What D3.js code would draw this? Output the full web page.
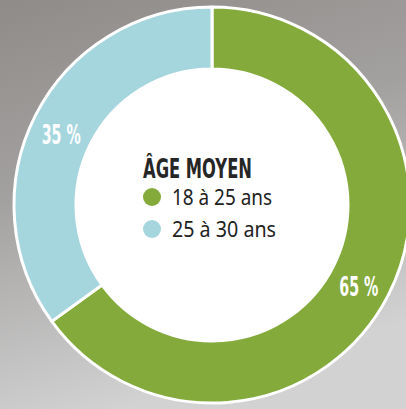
<!DOCTYPE html>
<html>
<head>
<meta charset="utf-8">
<script src="https://cdn.jsdelivr.net/npm/d3@7"></script>
<style>
  html, body { margin: 0; padding: 0; background: #b0aeac; }
  svg { display: block; }
</style>
</head>
<body>
<svg id="chart" width="406" height="409"></svg>
<script>
// ---- data ----
const categories = ["18 à 25 ans", "25 à 30 ans"];
const values = [65, 35];
const valueLabels = ["65 %", "35 %"];
const colors = ["#84aa3c", "#a5d6de"];
const title = "ÂGE MOYEN";

// ---- layout ----
const W = 406, H = 409;
const cx = 212, cy = 205;
const outerR = 198, innerR = 136;

const svg = d3.select("#chart");
const defs = svg.append("defs");

// concrete-like background
const bg = defs.append("linearGradient").attr("id", "bg")
  .attr("x1", "0").attr("y1", "0").attr("x2", "0.3").attr("y2", "1");
bg.append("stop").attr("offset", "0%").attr("stop-color", "#8f8b89");
bg.append("stop").attr("offset", "45%").attr("stop-color", "#a3a1a0");
bg.append("stop").attr("offset", "100%").attr("stop-color", "#d2d2d2");
svg.append("rect").attr("width", W).attr("height", H).attr("fill", "url(#bg)");

const g = svg.append("g").attr("transform", `translate(${cx},${cy})`);

const pie = d3.pie().sort(null).value(d => d)(values);
const arc = d3.arc().innerRadius(innerR).outerRadius(outerR);

g.selectAll("path.slice").data(pie).join("path")
  .attr("class", "slice")
  .attr("d", arc)
  .attr("fill", (d, i) => colors[i])
  .attr("stroke", "#ffffff")
  .attr("stroke-width", 3)
  .attr("stroke-linejoin", "round");

// inner white disk
g.append("circle").attr("r", innerR).attr("fill", "#ffffff");

// value labels
const labelR = 167;
const angleOf = d => (d.startAngle + d.endAngle) / 2;
g.selectAll("text.val").data(pie).join("text")
  .attr("class", "val")
  .attr("x", d => labelR * Math.sin(angleOf(d)) - 2)
  .attr("y", d => -labelR * Math.cos(angleOf(d)) + 6)
  .attr("text-anchor", "middle")
  .attr("dominant-baseline", "central")
  .attr("font-family", "'DejaVu Sans Condensed', 'DejaVu Sans', sans-serif")
  .attr("font-weight", "bold")
  .attr("font-size", 26)
  .attr("textLength", 39)
  .attr("lengthAdjust", "spacingAndGlyphs")
  .attr("fill", "#ffffff")
  .text((d, i) => valueLabels[i]);

// title
svg.append("text")
  .attr("x", 143).attr("y", 178)
  .attr("font-family", "'DejaVu Sans Condensed', 'DejaVu Sans', sans-serif")
  .attr("font-weight", "bold")
  .attr("font-size", 27)
  .attr("textLength", 109)
  .attr("lengthAdjust", "spacingAndGlyphs")
  .attr("fill", "#262626")
  .text(title);

// legend
const legend = svg.append("g").attr("transform", "translate(152,197)");
const rowH = 32;
const items = legend.selectAll("g").data(categories).join("g")
  .attr("transform", (d, i) => `translate(0,${i * rowH})`);
items.append("circle").attr("r", 9).attr("fill", (d, i) => colors[i]);
items.append("text")
  .attr("x", 20).attr("y", 8)
  .attr("font-family", "'Noto Sans', 'DejaVu Sans', sans-serif")
  .attr("font-size", 21)
  .attr("textLength", (d, i) => i === 0 ? 100 : 104)
  .attr("lengthAdjust", "spacingAndGlyphs")
  .attr("fill", "#222222")
  .text(d => d);
</script>
</body>
</html>
